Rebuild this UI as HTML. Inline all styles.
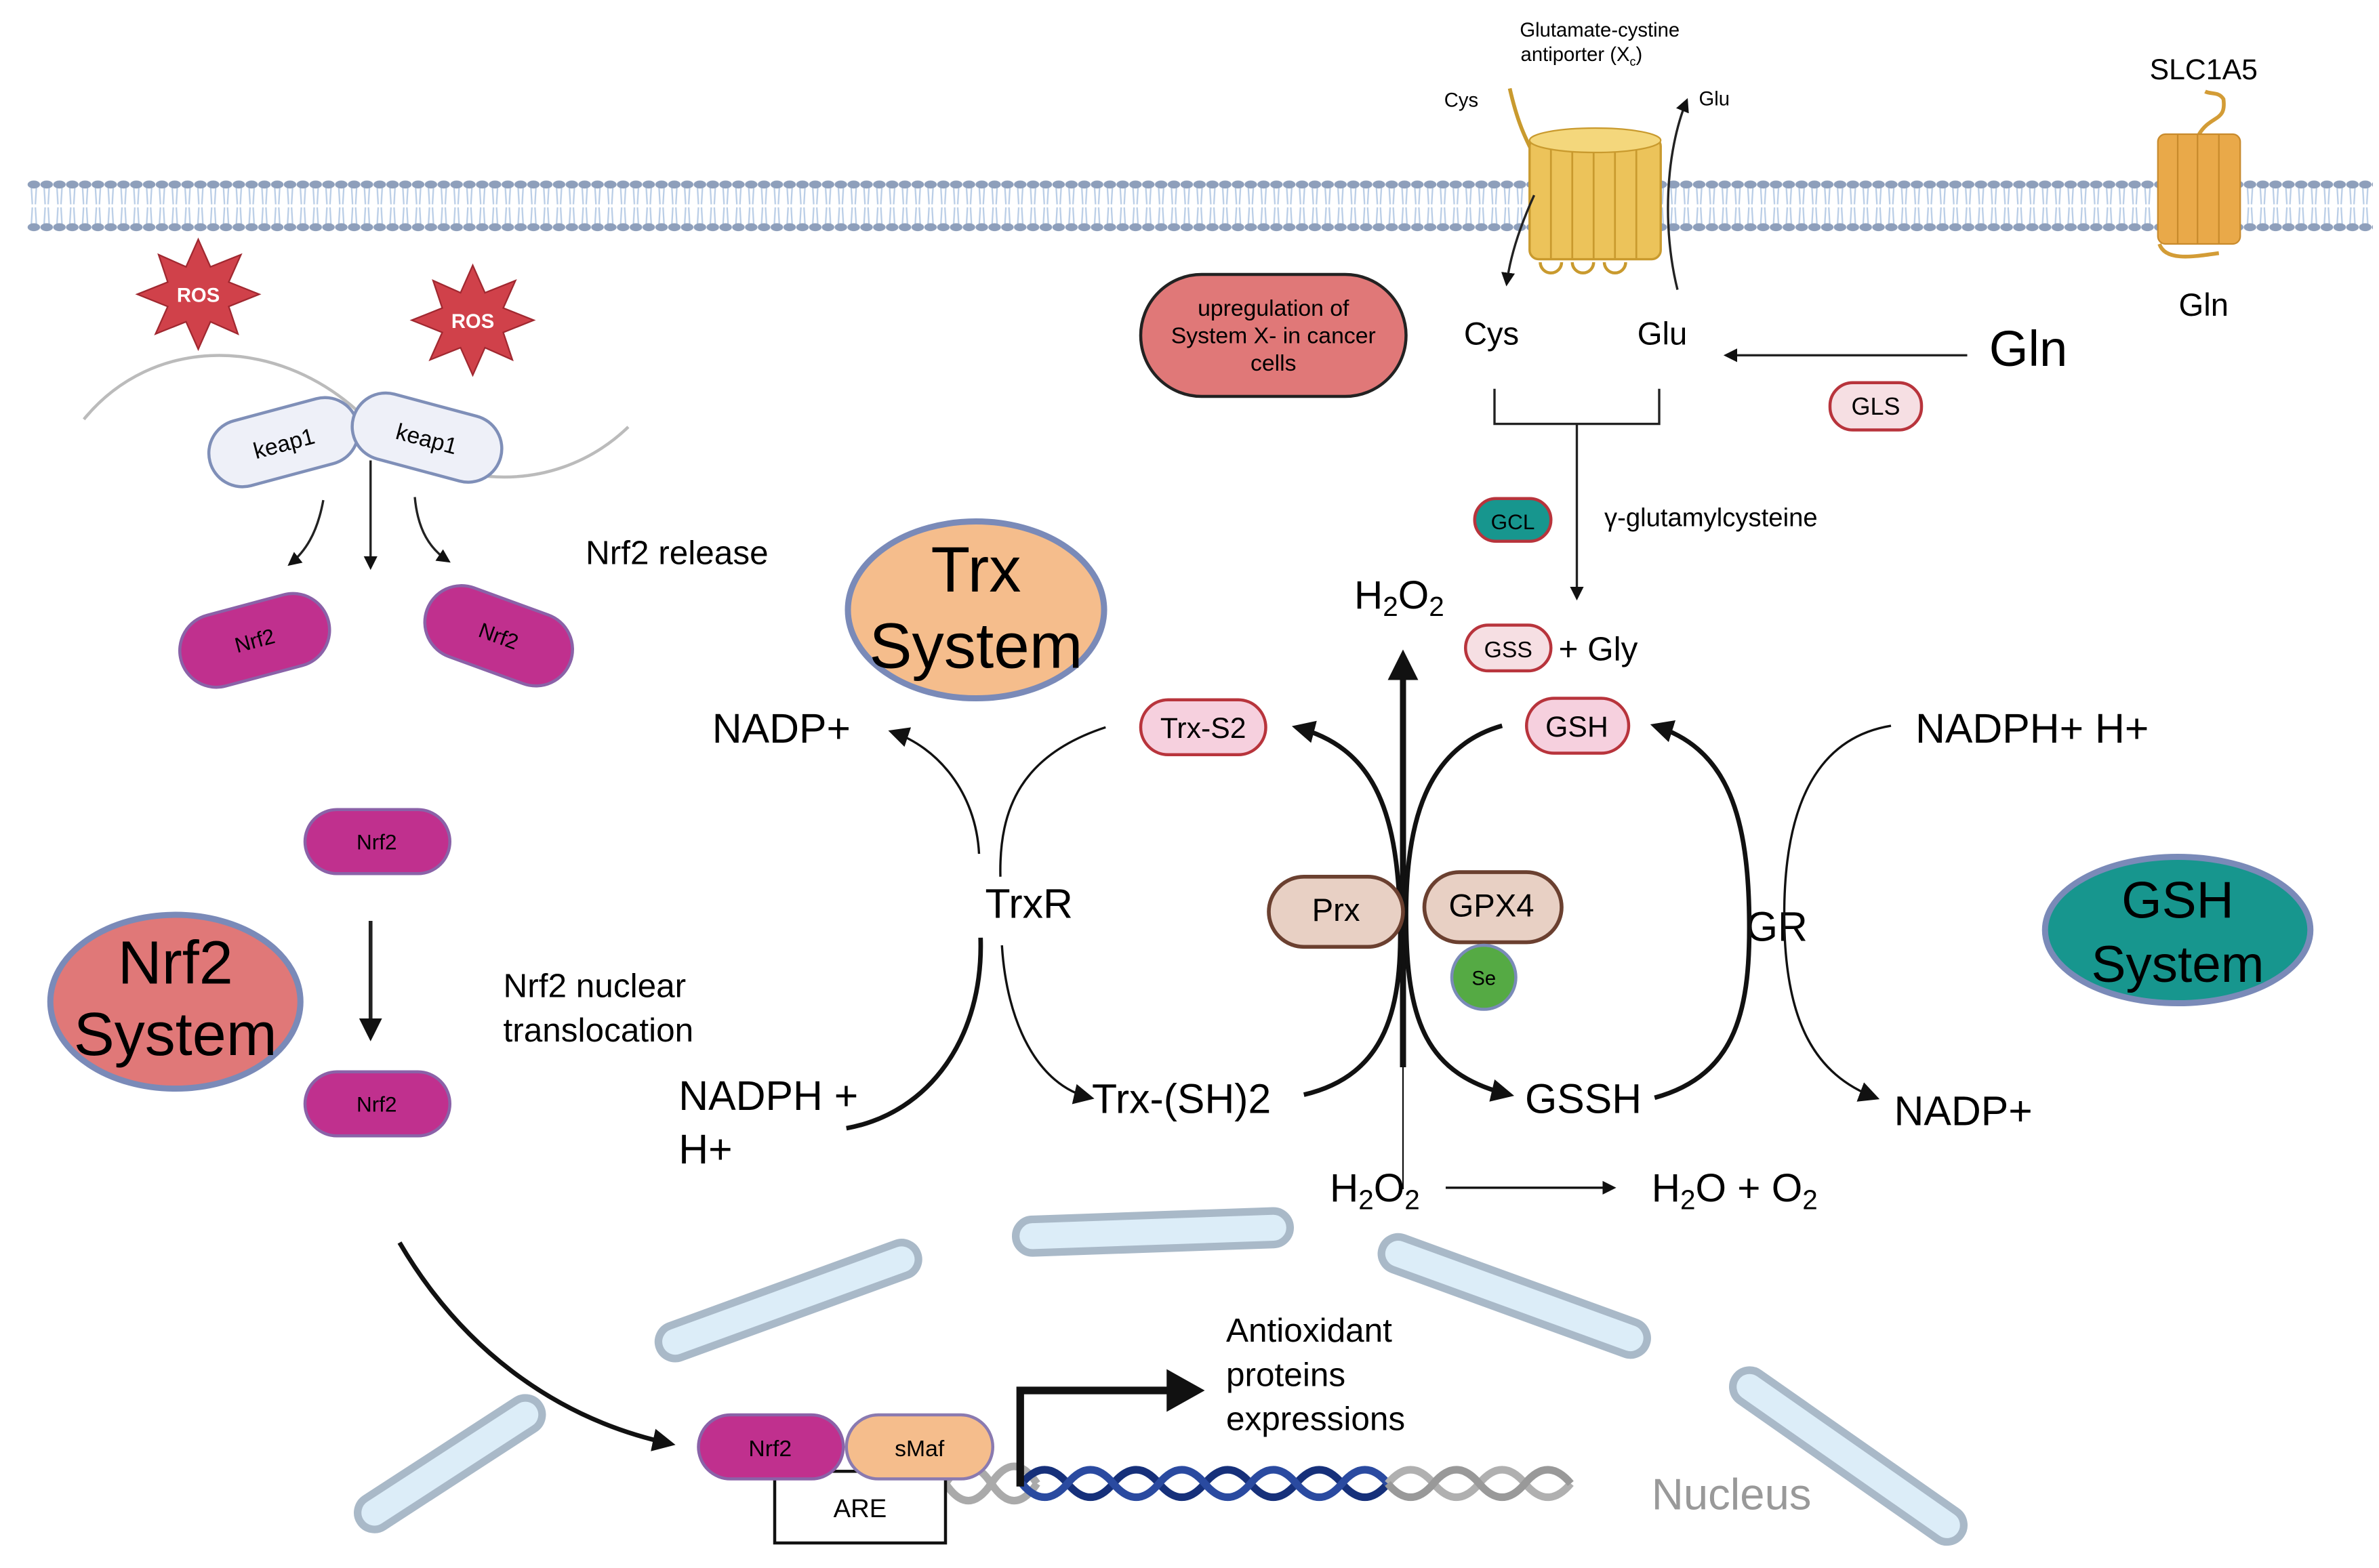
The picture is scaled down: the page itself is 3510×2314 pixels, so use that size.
<!DOCTYPE html>
<html><head><meta charset="utf-8"><style>
html,body{margin:0;padding:0;background:#fff}
svg{display:block}
text{font-family:"Liberation Sans",sans-serif}
</style></head><body>
<svg width="3510" height="2314" viewBox="0 0 1560 1028.4" xmlns="http://www.w3.org/2000/svg">
<defs>
<pattern id="mem" x="18" y="0" width="8.4" height="1028" patternUnits="userSpaceOnUse">
<path d="M2.5 122 L3.2 134 M5.9 122 L5.2 134 M3.2 136 L2.5 148 M5.2 136 L5.9 148" stroke="#b9cde6" stroke-width="1" fill="none"/>
<ellipse cx="4.2" cy="121" rx="4.1" ry="2.6" fill="#8e9fbb"/>
<ellipse cx="4.2" cy="149" rx="4.1" ry="2.6" fill="#8e9fbb"/>
</pattern>
<marker id="ah" viewBox="0 0 10 10" refX="8" refY="5" markerWidth="6" markerHeight="6" orient="auto"><path d="M0 0 L10 5 L0 10 z" fill="#111"/></marker>
<marker id="ahs" viewBox="0 0 10 10" refX="8" refY="5" markerWidth="9" markerHeight="9" orient="auto"><path d="M0 0 L10 5 L0 10 z" fill="#111"/></marker>
<marker id="ahb" viewBox="0 0 10 10" refX="8" refY="5" markerWidth="5" markerHeight="5" orient="auto"><path d="M0 0 L10 5 L0 10 z" fill="#111"/></marker>
</defs>
<rect x="18" y="112" width="1538" height="44" fill="url(#mem)"/>

<g>
<path d="M990 58 C995 80 1000 90 1005 100" stroke="#c99a2e" stroke-width="2.5" fill="none"/>
<rect x="1003" y="90" width="86" height="80" rx="6" fill="#ecc35a" stroke="#c99a2e" stroke-width="1.5"/>
<path d="M1017 92V170 M1031 92V170 M1045 92V170 M1059 92V170 M1073 92V170" stroke="#c99a2e" stroke-width="1.2"/>
<ellipse cx="1046" cy="92" rx="43" ry="8" fill="#f4d77c" stroke="#c99a2e"/>
<path d="M1010 172 a7 7 0 0 0 14 0 M1031 172 a7 7 0 0 0 14 0 M1052 172 a7 7 0 0 0 14 0" stroke="#c99a2e" stroke-width="2" fill="none"/>
<path d="M1006 128 C996 150 990 170 988 186" stroke="#222" stroke-width="1.5" fill="none" marker-end="url(#ah)"/>
<path d="M1100 190 C1090 150 1092 100 1106 66" stroke="#222" stroke-width="1.5" fill="none" marker-end="url(#ah)"/>
</g>
<text x="1049" y="24" font-size="13" text-anchor="middle">Glutamate-cystine</text>
<text x="1077" y="40" font-size="13" text-anchor="end">antiporter (X<tspan font-size="8" dy="3">c</tspan><tspan dy="-3">)</tspan></text>
<text x="947" y="70" font-size="13">Cys</text>
<text x="1114" y="69" font-size="13">Glu</text>

<path d="M1442 88 C1450 75 1460 80 1458 65 C1455 60 1450 62 1446 60" stroke="#d39c36" stroke-width="2.5" fill="none"/>
<rect x="1415" y="88" width="54" height="72" rx="5" fill="#e9a949" stroke="#c88a2c"/>
<path d="M1428 88V160 M1441 88V160 M1455 88V160" stroke="#c88a2c"/>
<path d="M1416 160 C1420 172 1440 168 1455 166" stroke="#d39c36" stroke-width="2.5" fill="none"/>
<text x="1445" y="52" font-size="19" text-anchor="middle">SLC1A5</text>
<text x="1445" y="207" font-size="21" text-anchor="middle">Gln</text>

<g transform="translate(130,193)">
<polygon points="0,-36 8,-18 28,-26 20,-8 40,0 20,8 26,26 8,18 0,36 -8,18 -28,26 -20,8 -40,0 -20,-8 -26,-26 -8,-18" fill="#d0414a" stroke="#a02830"/>
<text y="5" font-size="13" font-weight="bold" fill="#fff" text-anchor="middle">ROS</text></g>
<g transform="translate(310,210)">
<polygon points="0,-36 8,-18 28,-26 20,-8 40,0 20,8 26,26 8,18 0,36 -8,18 -28,26 -20,8 -40,0 -20,-8 -26,-26 -8,-18" fill="#d0414a" stroke="#a02830"/>
<text y="5" font-size="13" font-weight="bold" fill="#fff" text-anchor="middle">ROS</text></g>

<path d="M55 275 C100 220 180 220 235 270 C280 320 360 330 412 280" stroke="#bbb" stroke-width="2" fill="none"/>
<g transform="translate(186,290) rotate(-15)"><rect x="-50" y="-22" width="100" height="44" rx="22" fill="#eef0f8" stroke="#7f8fb8" stroke-width="2"/><text y="6" font-size="15" text-anchor="middle">keap1</text></g>
<g transform="translate(280,287) rotate(15)"><rect x="-50" y="-22" width="100" height="44" rx="22" fill="#eef0f8" stroke="#7f8fb8" stroke-width="2"/><text y="6" font-size="15" text-anchor="middle">keap1</text></g>
<path d="M243 302V372" stroke="#222" stroke-width="1.5" marker-end="url(#ah)"/>
<path d="M212 328 C208 350 200 362 190 370" stroke="#222" stroke-width="1.5" fill="none" marker-end="url(#ah)"/>
<path d="M272 326 C274 348 282 360 294 368" stroke="#222" stroke-width="1.5" fill="none" marker-end="url(#ah)"/>
<g transform="translate(167,420) rotate(-15)"><rect x="-50" y="-24" width="100" height="48" rx="24" fill="#c0308e" stroke="#8a62a8" stroke-width="2"/><text y="5" font-size="14" text-anchor="middle">Nrf2</text></g>
<g transform="translate(327,417) rotate(20)"><rect x="-50" y="-24" width="100" height="48" rx="24" fill="#c0308e" stroke="#8a62a8" stroke-width="2"/><text y="5" font-size="14" text-anchor="middle">Nrf2</text></g>
<text x="384" y="370" font-size="22">Nrf2 release</text>
<rect x="200" y="531" width="95" height="42" rx="21" fill="#c0308e" stroke="#8a62a8" stroke-width="2"/><text x="247" y="557" font-size="14" text-anchor="middle">Nrf2</text>
<path d="M243 604V680" stroke="#222" stroke-width="2.5" marker-end="url(#ah)"/>
<rect x="200" y="703" width="95" height="42" rx="21" fill="#c0308e" stroke="#8a62a8" stroke-width="2"/><text x="247" y="729" font-size="14" text-anchor="middle">Nrf2</text>
<text x="330" y="654" font-size="22">Nrf2 nuclear</text>
<text x="330" y="683" font-size="22">translocation</text>
<ellipse cx="115" cy="657" rx="82" ry="57" fill="#e07878" stroke="#7a8ab8" stroke-width="4"/>
<text x="115" y="645" font-size="40" text-anchor="middle">Nrf2</text><text x="115" y="692" font-size="40" text-anchor="middle">System</text>

<ellipse cx="640" cy="400" rx="84" ry="58" fill="#f5bd8c" stroke="#7a8ab8" stroke-width="4"/>
<text x="640" y="388" font-size="42" text-anchor="middle">Trx</text><text x="640" y="438" font-size="42" text-anchor="middle">System</text>
<ellipse cx="1428" cy="610" rx="87" ry="48" fill="#17968e" stroke="#7a8ab8" stroke-width="4"/>
<text x="1428" y="602" font-size="34" text-anchor="middle">GSH</text><text x="1428" y="644" font-size="34" text-anchor="middle">System</text>
<rect x="748" y="180" width="174" height="80" rx="40" fill="#e07878" stroke="#222" stroke-width="2"/>
<text x="835" y="207" font-size="15" text-anchor="middle">upregulation of</text>
<text x="835" y="225" font-size="15" text-anchor="middle">System X- in cancer</text>
<text x="835" y="243" font-size="15" text-anchor="middle">cells</text>

<text x="978" y="226" font-size="21" text-anchor="middle">Cys</text>
<text x="1090" y="226" font-size="21" text-anchor="middle">Glu</text>
<text x="1330" y="240" font-size="33" text-anchor="middle">Gln</text>
<path d="M1290 233H1132" stroke="#222" stroke-width="1.5" marker-end="url(#ah)"/>
<rect x="1200" y="251" width="60" height="31" rx="15" fill="#f6dfe3" stroke="#b8343c" stroke-width="2"/><text x="1230" y="272" font-size="16" text-anchor="middle">GLS</text>
<path d="M980 255V278H1088V255" stroke="#222" stroke-width="1.5" fill="none"/>
<path d="M1034 278V392" stroke="#222" stroke-width="1.5" marker-end="url(#ah)"/>
<rect x="967" y="327" width="50" height="28" rx="14" fill="#17968e" stroke="#b8343c" stroke-width="2"/><text x="992" y="347" font-size="14" text-anchor="middle">GCL</text>
<text x="1052" y="345" font-size="17">γ-glutamylcysteine</text>
<text x="888" y="399" font-size="26">H<tspan font-size="18" dy="5">2</tspan><tspan dy="-5">O</tspan><tspan font-size="18" dy="5">2</tspan></text>
<rect x="961" y="410" width="56" height="30" rx="15" fill="#f6dfe3" stroke="#b8343c" stroke-width="2"/><text x="989" y="431" font-size="15" text-anchor="middle">GSS</text>
<text x="1022" y="433" font-size="22">+ Gly</text>

<path d="M920 780V430" stroke="#111" stroke-width="1" />
<path d="M920 700V430" stroke="#111" stroke-width="4" marker-end="url(#ahb)"/>
<rect x="748" y="459" width="82" height="36" rx="18" fill="#f6d0de" stroke="#b8343c" stroke-width="2"/><text x="789" y="484" font-size="19" text-anchor="middle">Trx-S2</text>
<rect x="1001" y="458" width="67" height="36" rx="18" fill="#f6d0de" stroke="#b8343c" stroke-width="2"/><text x="1034" y="483" font-size="19" text-anchor="middle">GSH</text>

<text x="467" y="487" font-size="27">NADP+</text>
<text x="646" y="602" font-size="27">TrxR</text>
<text x="445" y="728" font-size="27">NADPH +</text><text x="445" y="763" font-size="27">H+</text>
<text x="716" y="730" font-size="27">Trx-(SH)2</text>
<text x="1000" y="730" font-size="27">GSSH</text>
<text x="1165" y="617" font-size="27" text-anchor="middle">GR</text>
<text x="1256" y="487" font-size="27">NADPH+ H+</text>
<text x="1242" y="738" font-size="27">NADP+</text>

<path d="M725 477 C670 495 655 530 656 575" stroke="#111" stroke-width="1.5" fill="none"/>
<path d="M642 560 C640 520 615 490 585 480" stroke="#111" stroke-width="1.5" fill="none" marker-end="url(#ahs)"/>
<path d="M643 615 C645 680 610 730 555 740" stroke="#111" stroke-width="3" fill="none"/>
<path d="M657 620 C660 670 680 712 715 720" stroke="#111" stroke-width="1.5" fill="none" marker-end="url(#ahs)"/>
<path d="M855 718 C910 705 920 660 918 600 C916 530 900 490 850 477" stroke="#111" stroke-width="3" fill="none" marker-end="url(#ahb)"/>
<path d="M985 476 C935 490 922 540 922 600 C922 670 935 705 990 718" stroke="#111" stroke-width="3" fill="none" marker-end="url(#ahb)"/>
<path d="M1085 720 C1140 705 1148 660 1147 600 C1146 530 1130 490 1085 476" stroke="#111" stroke-width="3" fill="none" marker-end="url(#ahb)"/>
<path d="M1240 476 C1185 485 1170 540 1170 600 C1170 670 1190 705 1230 720" stroke="#111" stroke-width="1.5" fill="none" marker-end="url(#ahs)"/>

<rect x="832" y="575" width="88" height="46" rx="23" fill="#e8d0c4" stroke="#6b4030" stroke-width="2.5"/><text x="876" y="604" font-size="21" text-anchor="middle">Prx</text>
<rect x="934" y="572" width="90" height="46" rx="23" fill="#e8d0c4" stroke="#6b4030" stroke-width="2.5"/><text x="978" y="601" font-size="21" text-anchor="middle">GPX4</text>
<circle cx="973" cy="641" r="21" fill="#55aa44" stroke="#7a8ab8" stroke-width="2"/><text x="973" y="646" font-size="13" text-anchor="middle">Se</text>

<text x="872" y="788" font-size="26">H<tspan font-size="18" dy="5">2</tspan><tspan dy="-5">O</tspan><tspan font-size="18" dy="5">2</tspan></text>
<path d="M948 779H1058" stroke="#111" stroke-width="1.5" marker-end="url(#ah)"/>
<text x="1083" y="788" font-size="26">H<tspan font-size="18" dy="5">2</tspan><tspan dy="-5">O + O</tspan><tspan font-size="18" dy="5">2</tspan></text>

<g fill="#dcedf8" stroke="#a9b9c8" stroke-width="5">
<rect x="-70" y="-11" width="140" height="22" rx="11" transform="translate(295,960) rotate(-33)"/>
<rect x="-90" y="-11" width="180" height="22" rx="11" transform="translate(517,853) rotate(-20)"/>
<rect x="-90" y="-11" width="180" height="22" rx="11" transform="translate(756,808) rotate(-2)"/>
<rect x="-92" y="-11" width="184" height="22" rx="11" transform="translate(993,850) rotate(20)"/>
<rect x="-90" y="-11" width="180" height="22" rx="11" transform="translate(1212,955) rotate(35)"/>
</g>
<path d="M262 815 C300 880 360 930 440 947" stroke="#111" stroke-width="3" fill="none" marker-end="url(#ahb)"/>

<g fill="none" stroke-width="5">
<path d="M620 973 C630 958 640 958 650 973 S670 988 680 973" stroke="#aaa"/>
<path d="M620 973 C630 988 640 988 650 973 S670 958 680 973" stroke="#aaa"/>
<path d="M670 973 q15 -18 30 0 t30 0 t30 0 t30 0 t30 0 t30 0 t30 0 t30 0" stroke="#16307a"/>
<path d="M670 973 q15 18 30 0 t30 0 t30 0 t30 0 t30 0 t30 0 t30 0 t30 0" stroke="#2a4aa0"/>
<path d="M910 973 q15 -18 30 0 t30 0 t30 0 t30 0" stroke="#b0b0b0"/>
<path d="M910 973 q15 18 30 0 t30 0 t30 0 t30 0" stroke="#999"/>
</g>
<rect x="508" y="965" width="112" height="47" fill="#fff" stroke="#111" stroke-width="2"/><text x="564" y="995" font-size="17" text-anchor="middle">ARE</text>
<rect x="458" y="928" width="95" height="42" rx="21" fill="#c0308e" stroke="#8a62a8" stroke-width="2"/><text x="505" y="955" font-size="15" text-anchor="middle">Nrf2</text>
<rect x="555" y="928" width="96" height="42" rx="21" fill="#f5bd8c" stroke="#8a7ab0" stroke-width="2"/><text x="603" y="955" font-size="15" text-anchor="middle">sMaf</text>
<path d="M669 975V912H770" stroke="#111" stroke-width="5" fill="none"/>
<polygon points="765,898 790,912 765,926" fill="#111"/>
<text x="804" y="880" font-size="22">Antioxidant</text>
<text x="804" y="909" font-size="22">proteins</text>
<text x="804" y="938" font-size="22">expressions</text>
<text x="1083" y="990" font-size="29" fill="#999">Nucleus</text>
</svg>
</body></html>
